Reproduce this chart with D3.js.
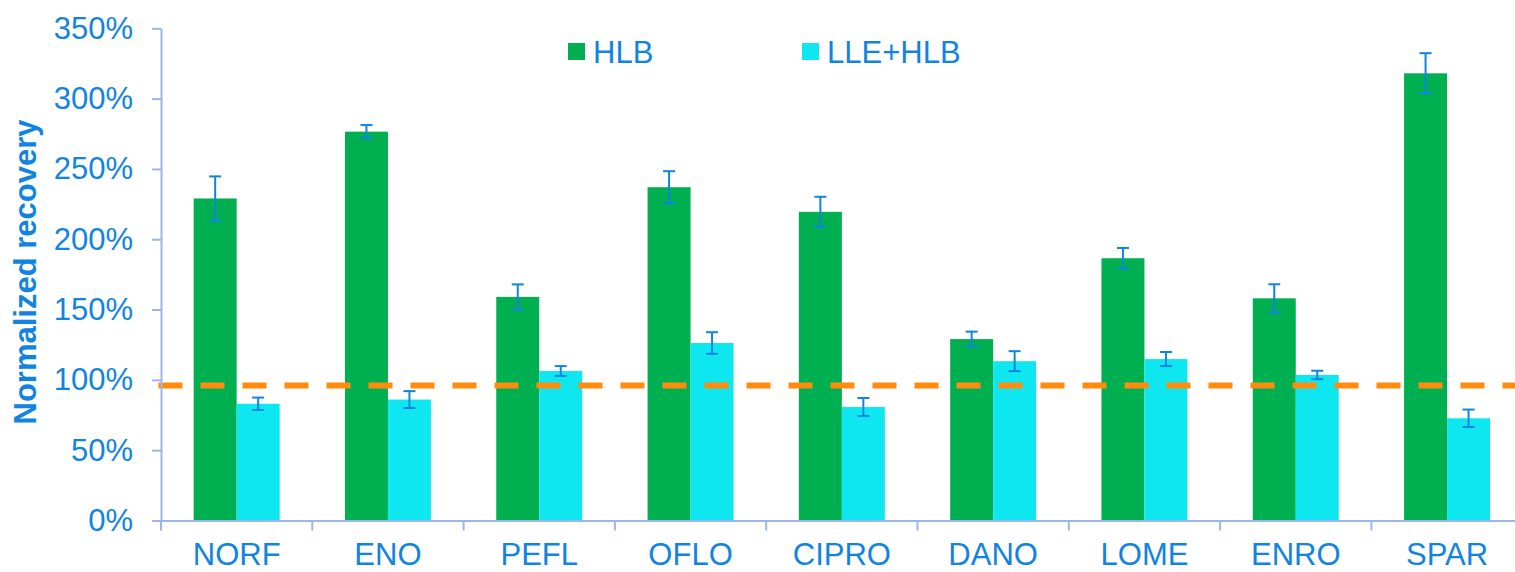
<!DOCTYPE html>
<html>
<head>
<meta charset="utf-8">
<script src="https://cdn.jsdelivr.net/npm/d3@7"></script>
<style>
  html, body { margin: 0; padding: 0; background: #fff; }
  svg { display: block; font-family: "Liberation Sans", Arial, sans-serif; }
</style>
</head>
<body>
<svg id="chart" width="1515" height="572"></svg>
<script>
// Compounds on the x axis
const categories = ["NORF", "ENO", "PEFL", "OFLO", "CIPRO", "DANO", "LOME", "ENRO", "SPAR"];
const seriesNames = ["HLB", "LLE+HLB"];

// Normalized recovery (%) and standard deviations
const hlbValues = [229, 276.5, 159, 237, 219.5, 129, 186.5, 158, 318];
const hlbErrors = [15.7, 4.7, 8.9, 11.4, 10.7, 5.3, 7.3, 10, 14.3];
const lleValues = [83, 86, 106.3, 126.2, 80.7, 113.3, 114.8, 103.5, 72.7];
const lleErrors = [4.4, 6, 3.5, 7.7, 6.4, 7.1, 5, 3, 6.2];

// Reference level drawn as the dashed line
const referenceLevel = [96];

const yTicks = [0, 50, 100, 150, 200, 250, 300, 350];

const colors = { "HLB": "#00AF50", "LLE+HLB": "#0FE7F0" };
const textBlue = "#1184E2";
const axisColor = "#9DB4EC";

const svg = d3.select("#chart");
const plotLeft = 161, plotTop = 28.3, plotBottom = 520.5;
const band = 151.3;

const x0 = d3.scaleBand()
  .domain(categories)
  .range([plotLeft, plotLeft + band * categories.length])
  .paddingInner(0).paddingOuter(0);

const x1 = d3.scaleBand()
  .domain(seriesNames)
  .range([0, x0.bandwidth()])
  .paddingInner(0).paddingOuter(0.76);

const y = d3.scaleLinear().domain([0, 350]).range([plotBottom, plotTop]);

const rows = categories.map((c, i) => ({
  cat: c,
  items: [
    { s: "HLB", v: hlbValues[i], e: hlbErrors[i] },
    { s: "LLE+HLB", v: lleValues[i], e: lleErrors[i] }
  ]
}));

// Bars
const groups = svg.append("g").selectAll("g")
  .data(rows).join("g")
  .attr("transform", d => `translate(${x0(d.cat)},0)`);

groups.selectAll("rect")
  .data(d => d.items).join("rect")
  .attr("x", d => x1(d.s))
  .attr("width", x1.bandwidth())
  .attr("y", d => y(d.v))
  .attr("height", d => y(0) - y(d.v))
  .attr("fill", d => colors[d.s]);

// Reference dashed line
svg.append("g").selectAll("line")
  .data(referenceLevel).join("line")
  .attr("x1", plotLeft - 2.5)
  .attr("x2", 1515)
  .attr("y1", d => y(d))
  .attr("y2", d => y(d))
  .attr("stroke", "#FF8C0C")
  .attr("stroke-width", 6)
  .attr("stroke-dasharray", "24,18");

// Error bars
const errG = groups.selectAll("g.err")
  .data(d => d.items).join("g")
  .attr("class", "err")
  .attr("stroke", "#1184E2")
  .attr("stroke-width", 2);

errG.append("line")
  .attr("x1", d => x1(d.s) + x1.bandwidth() / 2)
  .attr("x2", d => x1(d.s) + x1.bandwidth() / 2)
  .attr("y1", d => y(d.v + d.e))
  .attr("y2", d => y(d.v - d.e));
errG.append("line")
  .attr("x1", d => x1(d.s) + x1.bandwidth() / 2 - 6)
  .attr("x2", d => x1(d.s) + x1.bandwidth() / 2 + 6)
  .attr("y1", d => y(d.v + d.e))
  .attr("y2", d => y(d.v + d.e));
errG.append("line")
  .attr("x1", d => x1(d.s) + x1.bandwidth() / 2 - 6)
  .attr("x2", d => x1(d.s) + x1.bandwidth() / 2 + 6)
  .attr("y1", d => y(d.v - d.e))
  .attr("y2", d => y(d.v - d.e));

// Y axis
const yAxis = svg.append("g")
  .attr("transform", `translate(${plotLeft},0)`)
  .call(d3.axisLeft(y).tickValues(yTicks).tickFormat(d => d + "%")
    .tickSize(9).tickSizeOuter(0).tickPadding(19));
yAxis.selectAll("path, line").attr("stroke", axisColor).attr("stroke-width", 2);
yAxis.selectAll("text")
  .attr("fill", textBlue)
  .style("font-size", "31px")
  .style("font-family", "'Liberation Sans', Arial, sans-serif");

// X axis
const xAxis = svg.append("g")
  .attr("transform", `translate(0,${plotBottom})`)
  .call(d3.axisBottom(x0).tickSize(0).tickSizeOuter(0).tickPadding(22.5));
xAxis.select(".domain").attr("stroke", axisColor).attr("stroke-width", 2);
xAxis.selectAll("text")
  .attr("fill", textBlue)
  .style("font-size", "31px")
  .style("font-family", "'Liberation Sans', Arial, sans-serif");

// Category separators below the x axis
svg.append("g").selectAll("line")
  .data(d3.range(categories.length + 1)).join("line")
  .attr("x1", i => plotLeft + i * x0.step())
  .attr("x2", i => plotLeft + i * x0.step())
  .attr("y1", plotBottom)
  .attr("y2", plotBottom + 10)
  .attr("stroke", axisColor)
  .attr("stroke-width", 2);

// Y axis title
svg.append("text")
  .attr("transform", "translate(36,272) rotate(-90)")
  .attr("text-anchor", "middle")
  .attr("fill", textBlue)
  .style("font-size", "31px")
  .style("font-weight", "bold")
  .text("Normalized recovery");

// Legend
const legendPos = { "HLB": 568, "LLE+HLB": 802 };
const legend = svg.append("g").selectAll("g")
  .data(seriesNames).join("g")
  .attr("transform", d => `translate(${legendPos[d]},43)`);
legend.append("rect")
  .attr("width", 17).attr("height", 17)
  .attr("fill", d => colors[d]);
legend.append("text")
  .attr("x", 25).attr("y", 19.5)
  .attr("fill", textBlue)
  .style("font-size", "31px")
  .text(d => d);
</script>
</body>
</html>
